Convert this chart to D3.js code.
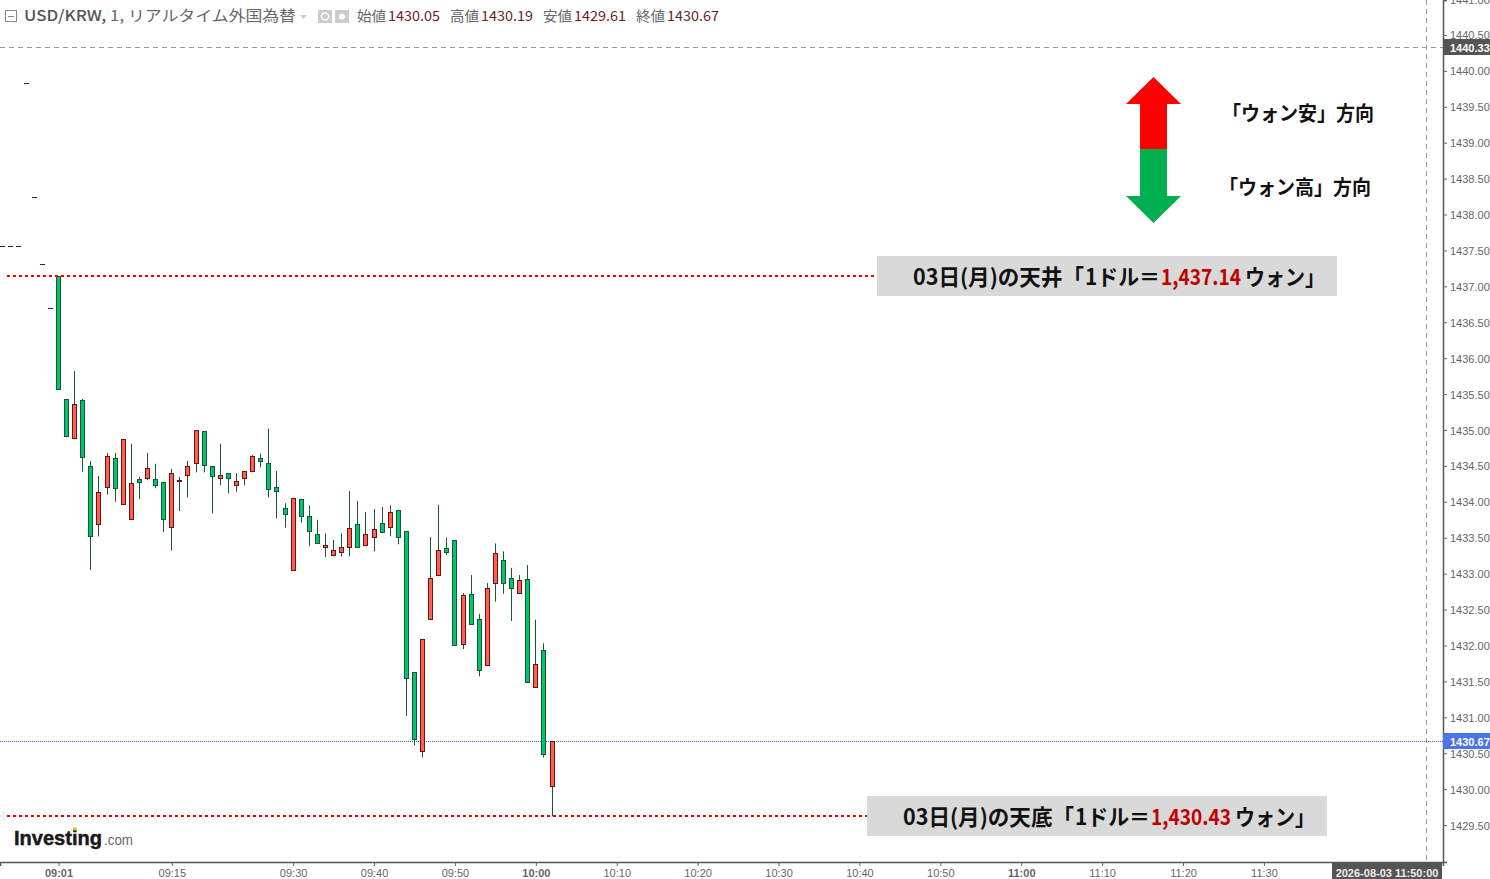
<!DOCTYPE html>
<html>
<head>
<meta charset="utf-8">
<script src="https://cdn.jsdelivr.net/npm/d3@7"></script>
<style>
  html, body { margin: 0; padding: 0; background: #fff; overflow: hidden; }
  svg { display: block; }
  text { font-family: "Liberation Sans", Arial, sans-serif; }
  .jp { font-family: "Noto Sans CJK JP", sans-serif; }
</style>
</head>
<body>
<div id="chart-container"></div>
<script>
// OHLC per minute, starting at 09:01
const opens = [1437.14,1435.43,1434.89,1435.42,1434.50,1433.70,1434.21,1434.61,1433.97,1433.76,1434.32,1434.33,1434.32,1434.28,1433.65,1434.29,1434.38,1434.54,1434.98,1434.50,1434.33,1434.40,1434.24,1434.33,1434.43,1434.61,1434.54,1434.21,1433.91,1433.05,1434.04,1433.80,1433.55,1433.37,1433.26,1433.30,1433.37,1433.69,1433.40,1433.51,1433.70,1433.65,1433.89,1433.59,1431.63,1430.53,1432.37,1432.98,1433.36,1433.47,1432.02,1432.72,1432.37,1431.73,1432.87,1433.19,1432.94,1432.73,1432.93,1431.42,1431.94,1430.05];
const closes = [1435.56,1434.92,1435.36,1434.63,1433.52,1434.14,1434.64,1434.19,1434.87,1434.26,1434.28,1434.47,1434.23,1433.77,1434.40,1434.30,1434.50,1435.00,1434.51,1434.36,1434.37,1434.33,1434.29,1434.43,1434.64,1434.57,1434.18,1434.15,1433.82,1434.05,1433.81,1433.59,1433.43,1433.40,1433.33,1433.37,1433.63,1433.37,1433.55,1433.62,1433.58,1433.86,1433.52,1431.55,1430.70,1432.09,1432.94,1433.33,1433.30,1432.01,1432.70,1432.30,1431.66,1432.80,1433.29,1432.87,1432.80,1432.91,1431.49,1431.74,1430.49,1430.67];
const highs = [1437.14,1435.43,1435.82,1435.43,1434.57,1434.36,1434.68,1434.68,1434.87,1434.81,1434.35,1434.68,1434.53,1434.28,1434.46,1434.35,1434.57,1435.00,1434.98,1434.50,1434.81,1434.40,1434.40,1434.43,1434.65,1434.67,1435.02,1434.43,1433.98,1434.05,1434.04,1433.95,1433.75,1433.56,1433.47,1433.56,1434.15,1434.01,1433.86,1433.90,1433.93,1433.95,1433.89,1433.59,1431.63,1432.09,1433.51,1433.96,1433.50,1433.47,1432.73,1432.98,1432.44,1432.87,1433.42,1433.31,1433.08,1432.98,1433.12,1432.36,1432.03,1430.67];
const lows = [1435.56,1434.90,1434.87,1434.42,1433.05,1433.52,1434.10,1434.00,1433.97,1433.76,1434.04,1434.30,1434.19,1433.58,1433.32,1433.87,1434.06,1434.41,1434.41,1433.84,1434.23,1434.12,1434.14,1434.23,1434.41,1434.48,1434.06,1433.77,1433.64,1433.05,1433.71,1433.38,1433.43,1433.23,1433.24,1433.24,1433.24,1433.37,1433.40,1433.31,1433.58,1433.52,1433.41,1431.02,1430.61,1430.44,1432.37,1432.98,1433.26,1432.01,1431.95,1432.30,1431.57,1431.73,1432.61,1432.72,1432.34,1432.73,1431.49,1431.42,1430.44,1429.62];
// flat one-price minutes before the open, 08:54 to 09:00
const preTimes = ["08:54","08:55","08:56","08:57","08:58","08:59","09:00"];
const prePrices = [1437.56,1437.56,1437.56,1439.83,1438.24,1437.31,1436.70];

const timeTicks = ["09:01","09:15","09:30","09:40","09:50","10:00","10:10","10:20","10:30","10:40","10:50","11:00","11:10","11:20","11:30"];
const boldTicks = ["09:01","10:00","11:00"];
const priceTicks = d3.range(1429.5, 1441.5, 0.5);

const lastPrice = 1430.67;
const cursorPrice = 1440.33;
const cursorTime = "11:50";
const topLevel = 1437.14;
const bottomLevel = 1429.63;
const headerItems = [["始値","1430.05"],["高値","1430.19"],["安値","1429.61"],["終値","1430.67"]];

const width = 1490, height = 879;
const plotRight = 1443, plotBottom = 862;

const parseTime = d3.timeParse("%H:%M");
const start = parseTime("09:01");

const svg = d3.select("#chart-container").append("svg")
  .attr("width", width).attr("height", height);

// 09:01 sits at x=58.5, one minute is 8.09px
const xScale = d3.scaleTime()
  .domain([d3.timeSecond.offset(start, -58.5 / 8.09 * 60), d3.timeSecond.offset(start, (plotRight - 58.5) / 8.09 * 60)])
  .range([0, plotRight]);
const yScale = d3.scaleLinear()
  .domain([1428.9854, 1440.9868])
  .range([plotBottom, 0]);

const snap = (v) => Math.round(v) + 0.5;

// Cursor cross lines
svg.append("line").attr("x1", 0).attr("x2", plotRight)
  .attr("y1", snap(yScale(cursorPrice))).attr("y2", snap(yScale(cursorPrice)))
  .attr("stroke", "#999").attr("stroke-dasharray", "5,4");
svg.append("line").attr("x1", snap(xScale(parseTime(cursorTime)))).attr("x2", snap(xScale(parseTime(cursorTime))))
  .attr("y1", 0).attr("y2", plotBottom)
  .attr("stroke", "#999").attr("stroke-dasharray", "5,4");

// Last price line
svg.append("line").attr("x1", 0).attr("x2", plotRight)
  .attr("y1", snap(yScale(lastPrice))).attr("y2", snap(yScale(lastPrice)))
  .attr("stroke", "#3d5fc4").attr("stroke-dasharray", "1,1");

// Pre-open marks
svg.append("g").selectAll("line").data(preTimes).join("line")
  .attr("x1", (d) => Math.round(xScale(parseTime(d))) - 2)
  .attr("x2", (d) => Math.round(xScale(parseTime(d))) + 3)
  .attr("y1", (d, i) => snap(yScale(prePrices[i])))
  .attr("y2", (d, i) => snap(yScale(prePrices[i])))
  .attr("stroke", "#5c1410");

// Candles, wicks are green on both colours
const candles = svg.append("g").selectAll("g").data(opens).join("g")
  .attr("transform", (d, i) => `translate(${snap(xScale(d3.timeMinute.offset(start, i)) - 0.49)},0)`);
candles.append("line")
  .attr("y1", (d, i) => yScale(highs[i])).attr("y2", (d, i) => yScale(lows[i]))
  .attr("stroke", "#17573a");
candles.append("rect")
  .attr("x", -2).attr("width", 4)
  .attr("y", (d, i) => Math.round(yScale(Math.max(opens[i], closes[i]))) + 0.5)
  .attr("height", (d, i) => Math.max(1, Math.round(Math.abs(yScale(opens[i]) - yScale(closes[i])))))
  .attr("fill", (d, i) => (closes[i] >= opens[i] ? "#ff5f52" : "#06c46e"))
  .attr("stroke", (d, i) => (closes[i] >= opens[i] ? "#6b1512" : "#17573a"));

// Annotation boxes and dotted level lines
function annotation(level, lineEnd, boxX, boxY, textY, dx) {
  svg.append("line").attr("x1", 7).attr("x2", lineEnd)
    .attr("y1", Math.round(yScale(level))).attr("y2", Math.round(yScale(level)))
    .attr("stroke", "#f00000").attr("stroke-width", 2).attr("stroke-dasharray", "3,3");
  svg.append("rect").attr("x", boxX).attr("y", boxY).attr("width", 460).attr("height", 40).attr("fill", "#d9d9d9");
  return (label, x, w, fill) => svg.append("text").attr("class", "jp").attr("x", x + dx).attr("y", textY)
    .attr("font-size", 22).attr("font-weight", 700).attr("fill", fill || "#111")
    .attr("textLength", w).attr("lengthAdjust", "spacingAndGlyphs").text(label);
}
const topNote = annotation(topLevel, 877, 877, 256, 285, 0);
topNote("03日(月)の天井「", 913, 171);
topNote("1ドル＝", 1085, 75);
topNote("1,437.14", 1161, 80, "#c00000");
topNote("ウォン」", 1245, 80);
const bottomNote = annotation(bottomLevel, 867, 867, 796, 825, -10);
bottomNote("03日(月)の天底「", 913, 171);
bottomNote("1ドル＝", 1085, 75);
bottomNote("1,430.43", 1161, 80, "#c00000");
bottomNote("ウォン」", 1245, 80);

// Direction arrows
svg.append("path").attr("d", "M1153.5,77L1181,104H1167V149H1140V104H1126Z").attr("fill", "#ff0000");
svg.append("path").attr("d", "M1140,149H1167V196H1181L1153.5,223L1126,196H1140Z").attr("fill", "#00b050");
svg.append("text").attr("class", "jp").attr("x", 1222).attr("y", 121).attr("font-size", 20).attr("font-weight", 700)
  .attr("fill", "#111").attr("textLength", 152).attr("lengthAdjust", "spacingAndGlyphs").text("「ウォン安」方向");
svg.append("text").attr("class", "jp").attr("x", 1219).attr("y", 195).attr("font-size", 20).attr("font-weight", 700)
  .attr("fill", "#111").attr("textLength", 152).attr("lengthAdjust", "spacingAndGlyphs").text("「ウォン高」方向");

// Axes
const yAxisGroup = svg.append("g").attr("transform", `translate(${plotRight},0)`)
  .call(d3.axisRight(yScale).tickValues(priceTicks).tickSize(4).tickPadding(3).tickFormat(d3.format(".2f")));
yAxisGroup.select(".domain").attr("stroke", "#555").attr("stroke-width", 1.5);
yAxisGroup.selectAll(".tick line").attr("stroke", "#666");
yAxisGroup.selectAll("text").attr("font-size", 11).attr("fill", "#666").attr("font-family", "Liberation Sans")
  .attr("transform", "translate(0,0.5)");

const xAxisGroup = svg.append("g").attr("transform", `translate(0,${plotBottom})`)
  .call(d3.axisBottom(xScale).tickValues(timeTicks.map(parseTime)).tickSize(4).tickPadding(3).tickFormat(d3.timeFormat("%H:%M")));
xAxisGroup.select(".domain").attr("stroke", "#555").attr("stroke-width", 1.5);
xAxisGroup.selectAll(".tick line").attr("stroke", "#666");
xAxisGroup.selectAll("text").attr("font-size", 11).attr("fill", "#666").attr("font-family", "Liberation Sans")
  .attr("font-weight", (d) => (boldTicks.includes(d3.timeFormat("%H:%M")(d)) ? 700 : 400));

// Axis value labels
function priceLabel(value, fill) {
  const y = yScale(value);
  svg.append("rect").attr("x", plotRight).attr("y", Math.round(y) - 8).attr("width", 47).attr("height", 16).attr("fill", fill);
  svg.append("text").attr("x", 1450).attr("y", y + 5).attr("font-size", 11).attr("font-weight", 700)
    .attr("fill", "#fff").text(value.toFixed(2));
}
priceLabel(cursorPrice, "#555");
priceLabel(lastPrice, "#4a74e8");
svg.append("rect").attr("x", 1332).attr("y", plotBottom).attr("width", 110).attr("height", 17).attr("fill", "#555");
svg.append("text").attr("x", 1387).attr("y", 877).attr("text-anchor", "middle").attr("font-size", 11).attr("font-weight", 700)
  .attr("fill", "#eee").text("2026-08-03 11:50:00");

// Header line
svg.append("rect").attr("x", 5.5).attr("y", 10.5).attr("width", 11).attr("height", 11).attr("fill", "none").attr("stroke", "#888");
svg.append("line").attr("x1", 8).attr("x2", 14).attr("y1", 16.5).attr("y2", 16.5).attr("stroke", "#888");
svg.append("text").attr("class", "jp").attr("x", 24).attr("y", 21).attr("font-size", 15).attr("fill", "#666")
  .attr("textLength", 272).attr("lengthAdjust", "spacingAndGlyphs")
  .html('<tspan font-weight="500" fill="#555">USD/KRW,</tspan> 1, リアルタイム外国為替');
svg.append("path").attr("d", "M300,15H307L303.5,19Z").attr("fill", "#ccc");
svg.append("rect").attr("x", 318).attr("y", 10).attr("width", 14).attr("height", 13).attr("fill", "#ccc");
svg.append("circle").attr("cx", 325).attr("cy", 16.5).attr("r", 3.5).attr("fill", "none").attr("stroke", "#fff").attr("stroke-width", 1.5);
svg.append("rect").attr("x", 335).attr("y", 10).attr("width", 14).attr("height", 13).attr("fill", "#ccc");
svg.append("circle").attr("cx", 342).attr("cy", 16.5).attr("r", 3).attr("fill", "#fff");
const headerX = [357, 450, 543, 636];
headerItems.forEach(([name, value], i) => {
  svg.append("text").attr("class", "jp").attr("x", headerX[i]).attr("y", 21).attr("font-size", 14).attr("fill", "#666")
    .attr("textLength", 29).attr("lengthAdjust", "spacingAndGlyphs").text(name);
  svg.append("text").attr("class", "jp").attr("x", headerX[i] + 31).attr("y", 21).attr("font-size", 14).attr("fill", "#6b1f1f")
    .attr("textLength", 52).attr("lengthAdjust", "spacingAndGlyphs").text(value);
});

// Logo
svg.append("text").attr("x", 14).attr("y", 845).attr("font-size", 21).attr("font-weight", 700).attr("fill", "#1a1a1a")
  .attr("stroke", "#1a1a1a").attr("stroke-width", 0.5)
  .attr("textLength", 88).attr("lengthAdjust", "spacingAndGlyphs").text("Investing");
svg.append("text").attr("x", 104).attr("y", 845).attr("font-size", 15).attr("fill", "#666")
  .attr("textLength", 29).attr("lengthAdjust", "spacingAndGlyphs").text(".com");
svg.append("circle").attr("cx", 75).attr("cy", 829).attr("r", 1.8).attr("fill", "#f5a623");
</script>
</body>
</html>
